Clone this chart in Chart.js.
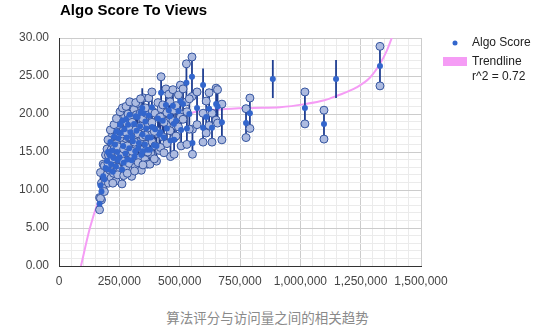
<!DOCTYPE html>
<html>
<head>
<meta charset="utf-8">
<script src="https://cdn.jsdelivr.net/npm/chart.js@4.4.1/dist/chart.umd.min.js"></script>
<style>
  body { margin: 0; background: #fff; }
  #wrap { position: relative; width: 535px; height: 300px; }
  #caption {
    position: absolute; left: 0; top: 307px; width: 535px; text-align: center;
    font: 13.5px "Noto Sans CJK SC", sans-serif; color: #8a8a8a;
  }
</style>
</head>
<body>
<div id="wrap"><canvas id="scoreChart"></canvas></div>
<div id="caption">算法评分与访问量之间的相关趋势</div>
<script>
// views (x), algo score mean, interval low / high
const views = [
  168000, 176000, 172000, 183000, 188000, 193000, 199000, 205000, 211000, 216000,
  221000, 226000, 232000, 236000, 241000, 246000, 251000, 256000, 261000, 266000,
  271000, 276000, 281000, 286000, 291000, 296000, 301000, 306000, 311000, 316000,
  321000, 326000, 331000, 336000, 341000, 346000, 351000, 356000, 361000, 366000,
  372000, 345000, 380000, 386000, 377000, 398000, 410000, 404000, 416000, 423000,
  430000, 443000, 447000, 455000, 462000, 472000, 476000, 477000, 506000, 495000,
  503000, 530000, 514000, 528000, 551000, 553000, 572000, 597000, 597000, 622000,
  651000, 657000, 675000, 634000,
  203000, 213000, 223000, 228000, 238000, 243000, 253000, 263000, 268000, 278000,
  283000, 293000, 303000, 313000, 318000, 328000, 338000, 348000, 358000, 368000,
  385000, 395000, 420000, 435000, 460000, 485000, 540000, 610000,
  775000, 791000, 886000, 1019000, 1098000, 1148000, 1330000
];
const scores = [
  8.2, 9.8, 10.6, 11.8, 11.4, 12.9, 13.8, 12.7, 14.5, 13.4,
  15.2, 14.2, 16.0, 13.1, 15.0, 16.8, 14.3, 17.5, 12.7, 15.8,
  18.0, 14.8, 16.9, 18.6, 15.5, 17.6, 13.9, 16.4, 18.7, 15.1,
  17.8, 19.6, 16.2, 18.4, 14.6, 17.3, 20.1, 16.0, 18.1, 15.3,
  19.8, 20.8, 16.9, 18.3, 15.3, 18.0, 19.4, 15.8, 17.3, 22.8,
  19.1, 21.2, 18.1, 20.5, 16.5, 21.1, 18.7, 16.6, 17.9, 20.4,
  21.7, 18.1, 21.3, 24.1, 24.9, 16.2, 20.8, 23.8, 18.2, 20.7,
  21.3, 21.0, 18.9, 18.2,
  15.0, 16.3, 12.4, 17.0, 17.7, 13.9, 18.6, 19.1, 13.6, 19.3,
  14.0, 19.9, 17.0, 14.4, 19.7, 15.5, 20.2, 15.1, 19.0, 16.9,
  20.9, 15.9, 17.6, 16.9, 19.7, 19.1, 20.0, 19.6,
  18.8, 20.1, 24.6, 20.8, 18.7, 24.6, 26.3
];
const lowScores = [
  7.4, 8.7, 8.9, 10.5, 9.8, 11.2, 12.0, 10.9, 12.6, 11.6,
  13.4, 12.2, 14.2, 11.2, 13.0, 14.8, 12.4, 15.5, 10.8, 13.8,
  16.2, 12.9, 14.9, 17.0, 13.5, 15.6, 11.8, 14.4, 16.8, 13.0,
  15.7, 17.8, 14.2, 16.5, 12.6, 15.3, 18.0, 14.0, 16.0, 13.4,
  17.6, 18.2, 14.8, 16.3, 13.4, 15.8, 17.4, 13.8, 15.2, 20.7,
  17.0, 19.0, 16.1, 18.4, 14.4, 19.1, 16.8, 14.7, 15.8, 18.3,
  19.6, 16.0, 19.3, 21.6, 22.3, 14.7, 18.6, 21.3, 16.3, 18.5,
  19.2, 18.8, 16.6, 16.3,
  13.5, 14.8, 10.9, 15.4, 16.1, 12.0, 16.9, 17.4, 11.9, 17.6,
  12.2, 18.2, 15.1, 12.5, 17.9, 13.6, 18.4, 13.3, 17.2, 15.0,
  18.9, 14.1, 15.6, 14.9, 17.8, 17.1, 18.0, 17.5,
  16.9, 18.1, 22.1, 18.7, 16.7, 22.1, 23.7
];
const highScores = [
  9.0, 10.9, 12.3, 13.4, 13.2, 14.6, 15.4, 14.6, 16.4, 15.3,
  17.1, 16.0, 17.9, 15.0, 17.1, 18.6, 16.2, 19.5, 14.6, 17.8,
  19.9, 16.8, 18.8, 20.0, 17.6, 19.6, 15.9, 18.5, 20.6, 17.2,
  19.9, 21.4, 18.3, 20.1, 16.5, 19.4, 22.1, 18.1, 20.1, 17.3,
  22.1, 23.4, 19.0, 20.4, 17.2, 20.1, 21.5, 17.8, 19.5, 24.9,
  21.2, 23.3, 20.2, 22.6, 18.6, 23.2, 20.5, 18.5, 20.0, 22.5,
  23.8, 20.3, 23.3, 26.6, 27.5, 18.0, 22.9, 26.0, 20.1, 22.8,
  23.4, 23.2, 21.3, 20.1,
  16.6, 17.9, 14.1, 18.6, 19.4, 15.7, 20.3, 20.8, 15.4, 21.0,
  15.8, 21.6, 18.9, 16.3, 21.5, 17.4, 22.0, 17.0, 20.8, 18.8,
  22.9, 17.7, 19.6, 18.9, 21.6, 21.1, 22.0, 21.7,
  20.7, 22.1, 27.1, 22.9, 20.5, 27.1, 28.9
];
// intervals drawn as plain sticks (no end circles), by view count
const stickOnlyViews = [345000, 886000, 1148000];

// trendline
const trendViews = [91000, 128000, 164000, 210000, 260000, 320000, 377000, 460000, 555000, 667000,
  800000, 916000, 1019000, 1100000, 1152000, 1233000, 1289000, 1330000, 1358000, 1379000];
const trendScores = [0, 5.0, 8.6, 12.0, 14.5, 16.3, 17.5, 19.1, 20.2, 20.6,
  20.8, 20.9, 21.3, 21.8, 22.4, 23.5, 24.8, 26.6, 28.3, 30];

const meanPoints = views.map((v, i) => ({ x: v, y: scores[i] }));
const endPoints = [];
const sticks = [];
views.forEach((v, i) => {
  sticks.push({ x: v, y: lowScores[i] }, { x: v, y: highScores[i] }, { x: v, y: null });
  const plain = stickOnlyViews.includes(v) || (v === 597000 && scores[i] === 23.8);
  if (!plain) {
    endPoints.push({ x: v, y: lowScores[i] }, { x: v, y: highScores[i] });
  }
});
const trendPoints = trendViews.map((v, i) => ({ x: v, y: trendScores[i] }));

const font = '"Liberation Sans", Arial, sans-serif';

const overlay = {
  id: 'overlay',
  afterDraw(chart) {
    const c = chart.ctx;
    c.save();
    c.fillStyle = '#000';
    c.font = 'bold 15px ' + font;
    c.textBaseline = 'middle';
    c.fillText('Algo Score To Views', 60, 11);
    c.beginPath();
    c.arc(455, 43, 2.5, 0, Math.PI * 2);
    c.fillStyle = '#3366cc';
    c.fill();
    c.fillStyle = '#f59cf5';
    c.fillRect(443, 57, 24, 9);
    c.font = '12px ' + font;
    c.fillStyle = '#222';
    c.fillText('Algo Score', 472, 43);
    c.fillText('Trendline', 472, 62);
    c.fillText('r^2 = 0.72', 472, 77);
    c.restore();
  }
};

new Chart(document.getElementById('scoreChart').getContext('2d'), {
  type: 'scatter',
  data: {
    datasets: [
      {
        label: 'Algo Score',
        data: meanPoints,
        pointRadius: 3,
        pointBackgroundColor: '#3366cc',
        pointBorderWidth: 0,
        order: 0
      },
      {
        label: 'ends',
        data: endPoints,
        pointRadius: 4,
        pointBackgroundColor: '#adbbe0',
        pointBorderColor: '#34549f',
        pointBorderWidth: 1,
        order: 1
      },
      {
        label: 'sticks',
        data: sticks,
        showLine: true,
        spanGaps: false,
        borderColor: '#203f92',
        borderWidth: 1.8,
        pointRadius: 0,
        order: 2
      },
      {
        label: 'Trendline',
        data: trendPoints,
        showLine: true,
        borderColor: '#f59cf5',
        borderWidth: 2,
        pointRadius: 0,
        cubicInterpolationMode: 'monotone',
        order: 3
      }
    ]
  },
  options: {
    responsive: true,
    maintainAspectRatio: false,
    animation: false,
    layout: { padding: { left: 0, right: 114, top: 38, bottom: 0 } },
    plugins: {
      legend: { display: false },
      tooltip: { enabled: false }
    },
    scales: {
      x: {
        type: 'linear',
        min: 0,
        max: 1500000,
        afterFit(s) { s.height = 34; },
        border: { color: '#333', width: 1 },
        grid: {
          drawTicks: false,
          color: ctx => ctx.tick && ctx.tick.value % 250000 === 0 ? '#cccccc' : '#ebebeb'
        },
        ticks: {
          stepSize: 50000,
          autoSkip: false,
          maxRotation: 0,
          padding: 8,
          color: '#444',
          font: { family: font, size: 12 },
          callback: v => v % 250000 === 0 ? v.toLocaleString('en-US') : ''
        }
      },
      y: {
        min: 0,
        max: 30,
        afterFit(s) { s.width = 59; },
        border: { color: '#333', width: 1 },
        grid: {
          drawTicks: false,
          color: ctx => ctx.tick && ctx.tick.value % 5 === 0 ? '#cccccc' : '#ebebeb'
        },
        ticks: {
          stepSize: 1,
          autoSkip: false,
          padding: 10,
          color: '#444',
          font: { family: font, size: 12 },
          callback: v => v % 5 === 0 ? v.toFixed(2) : ''
        }
      }
    }
  },
  plugins: [overlay]
});
</script>
</body>
</html>
